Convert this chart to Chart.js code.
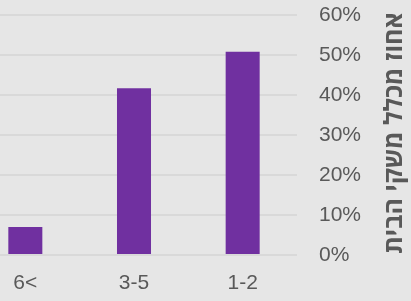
<!DOCTYPE html>
<html>
<head>
<meta charset="utf-8">
<script src="https://cdn.jsdelivr.net/npm/chart.js@4"></script>
<style>
  html, body { margin: 0; padding: 0; background: #e6e6e6; overflow: hidden; width: 411px; height: 301px; }
  #wrap { position: absolute; left: -29px; top: 0; width: 440px; height: 301px; }
</style>
</head>
<body>
<div id="wrap"><canvas id="c" width="440" height="301"></canvas></div>
<script>
const categories = ["6<", "3-5", "1-2"];
const shares = [7, 41.7, 50.8];
const yTicks = [0, 10, 20, 30, 40, 50, 60];
const yTitle = "אחוז מכלל משקי הבית";

const textColor = "#595959";
const fontFamily = "'Liberation Sans', Arial, sans-serif";

const titlePlugin = {
  id: 'rotTitle',
  afterDraw(chart) {
    const ctx = chart.ctx;
    ctx.save();
    ctx.translate(424, 133);
    ctx.rotate(-Math.PI / 2);
    ctx.fillStyle = textColor;
    ctx.font = "bold 25px 'Open Sans', 'DejaVu Sans', sans-serif";
    ctx.textAlign = 'center';
    ctx.textBaseline = 'middle';
    ctx.fillText(yTitle, 0, 0);
    ctx.restore();
  }
};

new Chart(document.getElementById('c'), {
  type: 'bar',
  data: {
    labels: categories,
    datasets: [{
      data: shares,
      backgroundColor: '#7030a0',
      categoryPercentage: 1,
      barPercentage: 0.313
    }]
  },
  options: {
    responsive: false,
    animation: false,
    devicePixelRatio: 1,
    layout: { padding: { top: 15, left: 0, right: 0, bottom: 0 } },
    plugins: { legend: { display: false }, tooltip: { enabled: false } },
    scales: {
      x: {
        grid: { display: false, drawTicks: false },
        border: { display: false },
        ticks: { color: textColor, font: { family: fontFamily, size: 21 }, padding: 16, maxRotation: 0 },
        afterFit(s) { s.height = 46; s.paddingLeft = 0; s.paddingRight = 0; }
      },
      y: {
        position: 'right',
        min: 0, max: 60,
        afterBuildTicks(s) { s.ticks = yTicks.map(v => ({ value: v })); },
        grid: { color: '#d9d9d9', lineWidth: 2, drawTicks: false },
        border: { display: false },
        ticks: {
          color: textColor,
          font: { family: fontFamily, size: 21 },
          padding: 22,
          callback: v => v + '%'
        },
        afterFit(s) { s.width = 114; s.paddingTop = 0; s.paddingBottom = 0; }
      }
    }
  },
  plugins: [titlePlugin]
});
</script>
</body>
</html>
